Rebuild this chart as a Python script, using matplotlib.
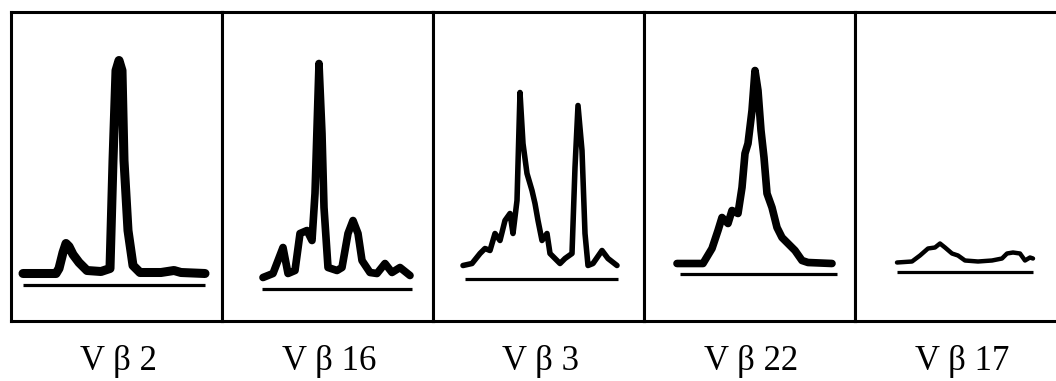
import matplotlib.pyplot as plt
import numpy as np

#Panel labels (TCR V beta families)
labels = [ "V β 2", "V β 16", "V β 3", "V β 22", "V β 17" ]

#Spectratype traces. x is position along the panel, y is height above the panel floor
vb2_x = [ 12, 45, 48, 52, 55, 58, 62, 68, 76, 90, 99, 102, 105, 108, 111, 113, 117, 122, 129, 150, 163, 170, 194 ]
vb2_y = [ 47, 47, 52, 68, 77, 74, 66, 58, 50, 49, 52, 160, 250, 260, 250, 160, 90, 55, 48, 48, 50, 48, 47 ]

vb16_x = [ 41, 51, 61, 66, 73, 78, 85, 90, 93, 97, 100, 102, 106, 115, 120, 126, 131, 136, 140, 148, 155, 163, 170, 178, 188 ]
vb16_y = [ 43, 47, 73, 47, 50, 87, 90, 80, 127, 257, 187, 113, 53, 50, 53, 87, 100, 87, 60, 48, 47, 57, 48, 53, 45 ]

vb3_x = [ 30, 39, 47, 52, 57, 62, 67, 72, 77, 80, 84, 87, 90, 94, 99, 102, 105, 109, 114, 117, 122, 127, 132, 139, 142, 145, 149, 152, 155, 160, 169, 175, 184 ]
vb3_y = [ 55, 57, 67, 72, 70, 87, 80, 100, 107, 87, 120, 228, 177, 147, 130, 117, 100, 80, 87, 67, 62, 57, 62, 67, 153, 215, 170, 87, 55, 57, 70, 62, 55 ]

vb22_x = [ 33, 59, 68, 74, 78, 84, 88, 94, 98, 101, 104, 108, 111, 114, 117, 120, 123, 128, 133, 138, 144, 151, 158, 164, 188 ]
vb22_y = [ 57, 57, 72, 90, 103, 97, 110, 107, 133, 167, 177, 210, 250, 230, 190, 163, 127, 113, 93, 83, 77, 70, 60, 58, 57 ]

vb17_x = [ 42, 57, 65, 73, 80, 85, 90, 97, 103, 110, 123, 137, 147, 152, 158, 165, 170, 175, 178 ]
vb17_y = [ 58, 59, 65, 72, 73, 77, 73, 67, 65, 60, 59, 60, 62, 67, 68, 67, 60, 63, 62 ]

traces_x = [ vb2_x, vb16_x, vb3_x, vb22_x, vb17_x ]
traces_y = [ vb2_y, vb16_y, vb3_y, vb22_y, vb17_y ]

#Reference line under each trace: height, start, end
ref_y = [ 36, 32, 42, 47, 49 ]
ref_start = [ 12, 40, 32, 36, 42 ]
ref_end = [ 194, 190, 185, 193, 178 ]

#Stroke width of each trace (the scans are not equally heavy)
trace_lw = [ 6.5, 5.5, 4.0, 5.5, 3.2 ]

W, H = 1056, 381
fig = plt.figure( figsize = ( W / 100, H / 100 ), dpi = 100 )

panel_w = 211
panel_left = 11
panel_top = 11.5
panel_bottom = 320.5

for i in range( len( labels ) ):
	left = panel_left + panel_w * i
	ax = fig.add_axes( [ left / W, ( H - panel_bottom ) / H, panel_w / W, ( panel_bottom - panel_top ) / H ] )
	ax.set_xlim( 0, panel_w )
	ax.set_ylim( 0, panel_bottom - panel_top )
	ax.set_xticks( [] )
	ax.set_yticks( [] )
	for s in ax.spines.values():
		s.set_linewidth( 2.2 )
		s.set_color( 'black' )

	ax.plot( traces_x[i], traces_y[i], color = 'black', lw = trace_lw[i], solid_joinstyle = 'round', solid_capstyle = 'round' )
	ax.plot( [ ref_start[i], ref_end[i] ], [ ref_y[i], ref_y[i] ], color = 'black', lw = 2.3, solid_capstyle = 'butt' )

	#Label under the panel
	fig.text( ( left + panel_w / 2 + 2 ) / W, 11 / H, labels[i], ha = 'center', va = 'baseline',
		fontsize = 25, family = [ 'Liberation Serif', 'DejaVu Serif' ] )

plt.savefig( "out.png", dpi = 100 )
